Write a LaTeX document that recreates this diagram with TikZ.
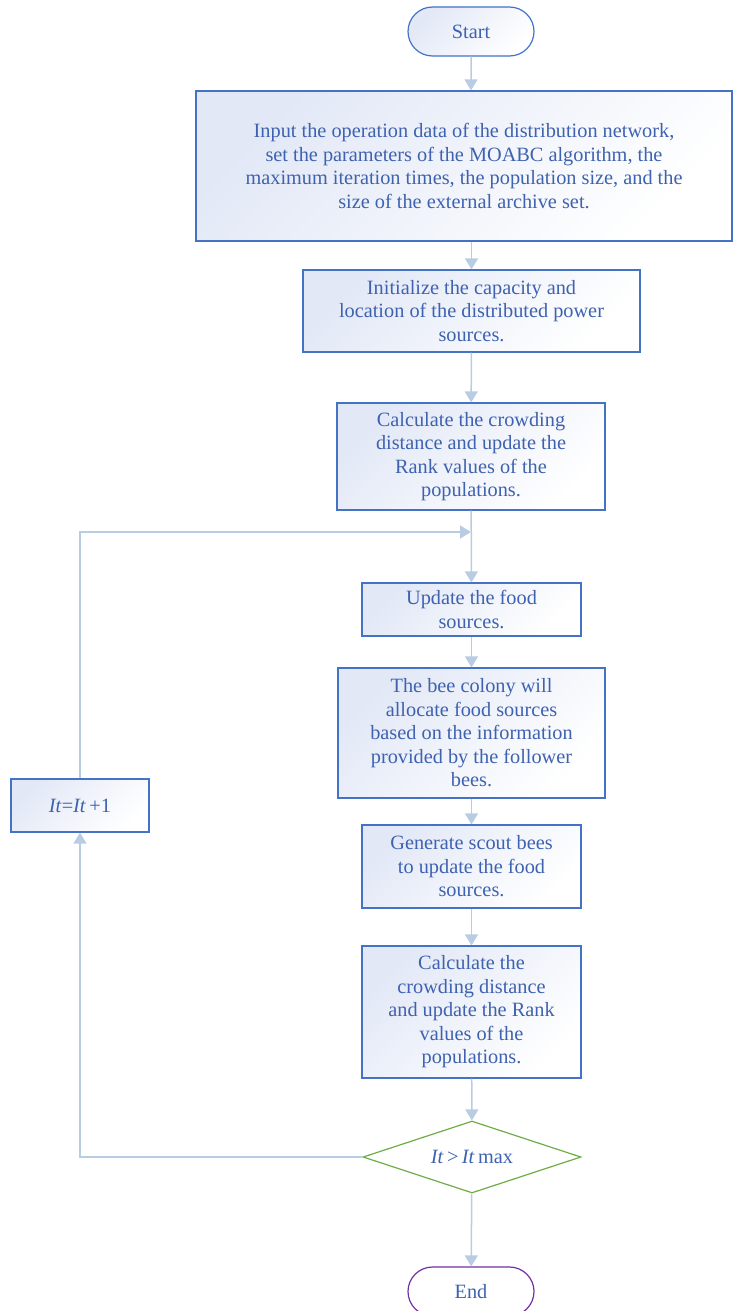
\documentclass[tikz,border=0pt]{standalone}
\usepackage{fontspec}
\setmainfont{Liberation Serif}
\usepackage{tikz}
\usetikzlibrary{arrows.meta,shapes.misc,shapes.geometric}

\definecolor{boxline}{RGB}{68,114,196}
\definecolor{boxtext}{RGB}{62,98,176}
\definecolor{boxtint}{RGB}{226,232,246}
\definecolor{flowline}{RGB}{184,204,228}
\definecolor{decline}{RGB}{112,173,71}
\definecolor{endline}{RGB}{112,48,160}

\begin{document}
\begin{tikzpicture}[x=1pt,y=-1pt,
        every node/.style={font=\fontsize{20.3}{23.5}\selectfont, text=boxtext, align=center, inner sep=0pt},
        procbox/.style={draw=boxline, line width=1.2pt, rectangle, top color=boxtint, bottom color=white, shading angle=45},
        termbox/.style={rounded rectangle, line width=1.2pt, minimum width=126pt, minimum height=49pt},
        flow/.style={draw=flowline, line width=1.5pt, -{Triangle[width=13pt,length=11pt]}}]
        \useasboundingbox (0,0) rectangle (733,1311);

        \node[termbox, draw=boxline, top color=boxtint, bottom color=white, shading angle=45] (start) at (471,31.5) {Start};
        \node[procbox, minimum width=536pt, minimum height=150pt] (inp) at (464,166)
            {Input the operation data of the distribution network,\\
             set the parameters of the MOABC algorithm, the\\
             maximum iteration times, the population size, and the\\
             size of the external archive set.};
        \node[procbox, minimum width=337pt, minimum height=82pt] (init) at (471.5,311)
            {Initialize the capacity and\\ location of the distributed power\\ sources.};
        \node[procbox, minimum width=268pt, minimum height=107pt] (crowda) at (471,456.5)
            {Calculate the crowding\\ distance and update the\\ Rank values of the\\ populations.};
        \node[procbox, minimum width=219pt, minimum height=53pt] (food) at (471.5,609.5)
            {Update the food\\ sources.};
        \node[procbox, minimum width=267pt, minimum height=130pt] (colony) at (471.5,733)
            {The bee colony will\\ allocate food sources\\ based on the information\\ provided by the follower\\ bees.};
        \node[procbox, minimum width=219pt, minimum height=83pt] (scout) at (471.5,866.5)
            {Generate scout bees\\ to update the food\\ sources.};
        \node[procbox, minimum width=219pt, minimum height=132pt] (crowdb) at (471.5,1012)
            {Calculate the\\ crowding distance\\ and update the Rank\\ values of the\\ populations.};
        \node[diamond, draw=decline, line width=1.2pt, fill=white, minimum width=218pt, minimum height=72pt, aspect=3] (check) at (472,1157)
            {\textit{It}\,>\,\textit{It}\,max};
        \node[termbox, draw=endline, fill=white] (finish) at (471,1291.5) {End};
        \node[procbox, minimum width=138pt, minimum height=53pt] (incr) at (80,805.5)
            {\textit{It}=\textit{It}\,+1};

        \coordinate (merge) at (471,532);

        \draw[flow] (start) -- (start |- inp.north);
        \draw[flow] (init.north |- inp.south) -- (init);
        \draw[flow] (init) -- (crowda);
        \draw[flow] (crowda) -- (food);
        \draw[flow] (food) -- (colony);
        \draw[flow] (colony) -- (scout);
        \draw[flow] (scout) -- (crowdb);
        \draw[flow] (crowdb) -- (check);
        \draw[flow] (check) -- (finish);
        \draw[flow] (check.west) -| (incr.south);
        \draw[flow] (incr.north) |- (merge);
    \end{tikzpicture}
\end{document}
